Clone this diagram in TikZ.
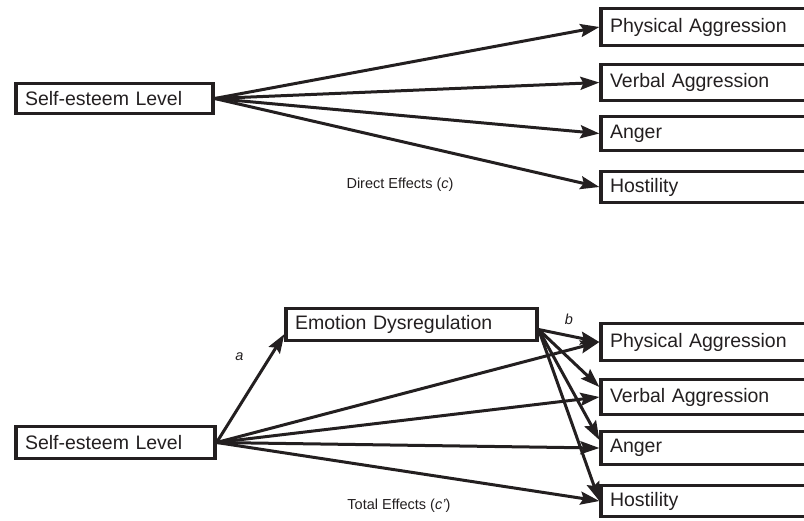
\documentclass[tikz,border=0pt]{standalone}
\usepackage{fontspec}
\setmainfont{Liberation Sans}
\usetikzlibrary{arrows.meta}
\definecolor{ink}{HTML}{231F20}

\begin{document}
\begin{tikzpicture}[x=1pt,y=-1pt,
  box/.style={draw=ink,line width=3.2pt,text=ink,inner xsep=9pt,inner ysep=0pt,
    align=left,anchor=west,font=\fontsize{19.5}{22}\selectfont},
  effect/.style={box,text width=197pt},
  arr/.style={draw=ink,line width=3pt,-{Stealth[length=19pt,width=13pt,inset=3pt]}},
  note/.style={text=ink,font=\fontsize{14.5}{17}\selectfont}]
\clip (0,0) rectangle (804,520);
% direct effects
\node[box,minimum height=30pt,text width=179pt] (se_1) at (14.4,98.5) {Self-esteem Level};
\node[effect,minimum height=37pt] (pa_1) at (599.4,27) {Physical Aggression};
\node[effect,minimum height=36pt] (va_1) at (599.4,82.5) {Verbal Aggression};
\node[effect,minimum height=34pt] (an_1) at (599.4,133.5) {Anger};
\node[effect,minimum height=31pt] (ho_1) at (599.4,187) {Hostility};
\foreach \t in {pa_1,va_1,an_1,ho_1}
  \draw[arr] (se_1.east) -- (\t.west);
\node[note] (direct) at (400,185) {Direct Effects (\textit{c})};
% total effects
\node[box,minimum height=32pt,text width=181pt] (se_2) at (14.4,442.5) {Self-esteem Level};
\node[box,minimum height=32pt,text width=233pt] (ed) at (284.4,324.5) {Emotion Dysregulation};
\node[effect,minimum height=37pt] (pa_2) at (599.4,342) {Physical Aggression};
\node[effect,minimum height=35pt] (va_2) at (599.4,397) {Verbal Aggression};
\node[effect,minimum height=33pt] (an_2) at (599.4,448) {Anger};
\node[effect,minimum height=31pt] (ho_2) at (599.4,501) {Hostility};
\draw[arr] (se_2.east) to node[note,pos=0.79,left=22pt]{\textit{a}} ([yshift=8pt]ed.south west);
\foreach \t in {pa_2,va_2,an_2,ho_2}
  \draw[arr] (se_2.east) -- (\t.west);
\draw[arr] ([yshift=-5pt]ed.east) to node[note,above=6pt]{\textit{b}} (pa_2.west);
\draw[arr] ([yshift=-5pt]ed.east) -- ([yshift=10pt]va_2.west);
\draw[arr] ([yshift=-5pt]ed.east) -- ([yshift=8pt]an_2.west);
\draw[arr] ([yshift=-5pt]ed.east) -- (ho_2.west);
\node[note] (total) at (399,506) {Total Effects (\textit{c’})};
\end{tikzpicture}
\end{document}
